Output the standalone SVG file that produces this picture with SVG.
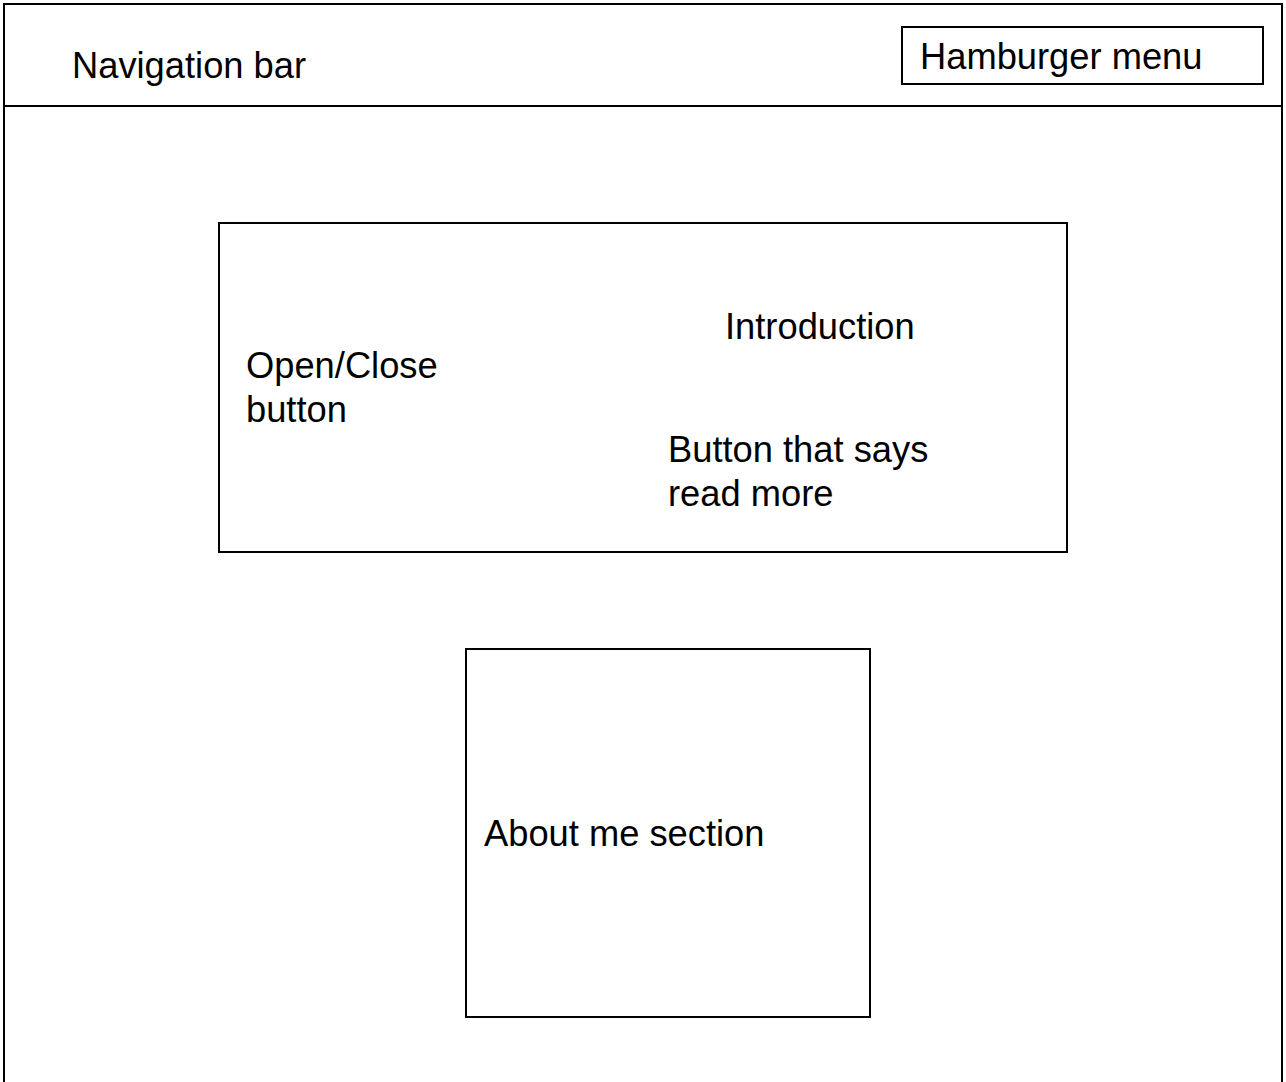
<svg xmlns="http://www.w3.org/2000/svg" width="1286" height="1082" viewBox="0 0 1286 1082">
<style>
.box{fill:none;stroke:#000;stroke-width:2}
.t{font-family:"Liberation Sans",Arial,sans-serif;font-size:36.3px;fill:#000}
</style>
<rect x="0" y="0" width="1286" height="1082" fill="#fff"/>
<g id="page">
<rect class="box" x="4" y="4" width="1278" height="1100"/>
</g>
<g id="navbar">
<line x1="4" y1="106" x2="1282" y2="106" stroke="#000" stroke-width="2"/>
<text class="t" x="72" y="78">Navigation bar</text>
</g>
<g id="hamburger">
<rect class="box" x="902" y="27" width="361" height="57"/>
<text class="t" x="920" y="69">Hamburger menu</text>
</g>
<g id="intro">
<rect class="box" x="219" y="223" width="848" height="329"/>
<text class="t" x="246" y="378">Open/Close</text>
<text class="t" x="246" y="422">button</text>
<text class="t" x="725" y="339">Introduction</text>
<text class="t" x="668" y="462">Button that says</text>
<text class="t" x="668" y="506">read more</text>
</g>
<g id="about">
<rect class="box" x="466" y="649" width="404" height="368"/>
<text class="t" x="484" y="846">About me section</text>
</g>
<g id="connectors"/>
</svg>
